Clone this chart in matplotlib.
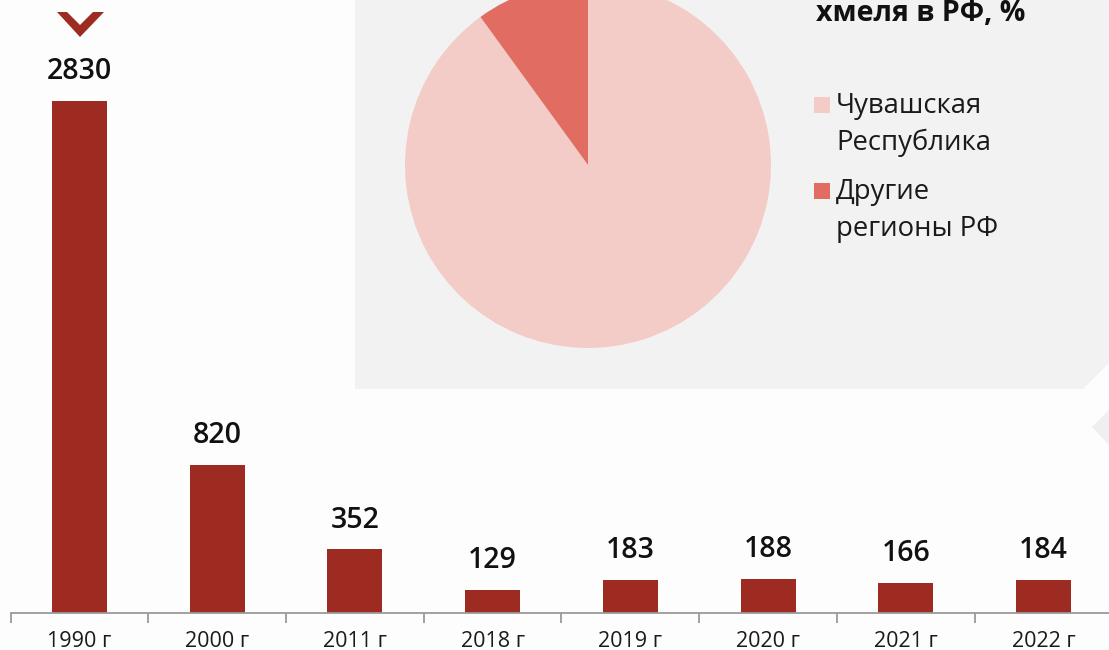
import matplotlib
matplotlib.use("Agg")
import matplotlib.pyplot as plt
from matplotlib.patches import Polygon, Rectangle
import numpy as np

# ---- data ----
years = ["1990 г", "2000 г", "2011 г", "2018 г", "2019 г", "2020 г", "2021 г", "2022 г"]
values = [2830, 820, 352, 129, 183, 188, 166, 184]

pie_labels = [["Чувашская", "Республика"], ["Другие", "регионы РФ"]]
pie_shares = [90, 10]
pie_title = "хмеля в РФ, %"

# ---- style ----
BAR = "#9d2b22"
PIE_COLORS = ["#f4ccc7", "#e06c62"]
BOX = "#f2f2f2"
BG = "#fdfdfd"
TXT = "#1a1a1a"
FONT = ["Open Sans", "DejaVu Sans"]
plt.rcParams["font.family"] = FONT

W, H = 1109, 650
fig = plt.figure(figsize=(W / 100, H / 100), dpi=100, facecolor=BG)

# background decorations (pixel coordinates)
bg = fig.add_axes([0, 0, 1, 1], zorder=0)
bg.set_xlim(0, W); bg.set_ylim(H, 0); bg.axis("off")
bg.add_patch(Polygon([(355, 0), (W, 0), (W, 363), (1083, 389), (355, 389)],
                     closed=True, facecolor=BOX, edgecolor="none"))
bg.add_patch(Polygon([(W, 410), (1092, 427), (W, 445)], closed=True,
                     facecolor="#efefef", edgecolor="none"))

# ---- bar chart ----
base_px = 613
left_px = 10.7
cat_px = 137.7
px_per_unit = 512 / 2830
ax = fig.add_axes([left_px / W, (H - base_px) / H, cat_px * 8 / W, base_px / H], zorder=1)
ax.set_facecolor("none")
x = np.arange(len(years))
ax.bar(x, values, width=0.4, color=BAR)
ax.set_xlim(-0.5, len(years) - 0.5)
ax.set_ylim(0, base_px / px_per_unit)
for xi, v in zip(x, values):
    ax.annotate(f"{v}", (xi, v), xytext=(0, 15.5), textcoords="offset points",
                ha="center", va="baseline", fontsize=20.5, fontweight="semibold",
                color="#111111")
for s in ["top", "right", "left"]:
    ax.spines[s].set_visible(False)
ax.spines["bottom"].set_color("#9a9a9a")
ax.spines["bottom"].set_linewidth(1.3)
ax.set_yticks([])
ax.set_xticks(x)
ax.set_xticklabels(years, fontsize=15.5, color=TXT)
ax.tick_params(axis="x", which="major", length=0, pad=13)
ax.set_xticks(np.arange(-0.5, len(years), 1.0), minor=True)
ax.tick_params(axis="x", which="minor", length=7, width=1.3, color="#9a9a9a", direction="out")

# ---- pie ----
cx, cy, r = 588, 165, 183
pax = fig.add_axes([(cx - r) / W, (H - cy - r) / H, 2 * r / W, 2 * r / H], zorder=2)
pax.pie(pie_shares, colors=PIE_COLORS, startangle=90, counterclock=False,
        wedgeprops=dict(linewidth=0))
pax.set_aspect("equal")
pax.set_xlim(-1, 1); pax.set_ylim(-1, 1)
pax.axis("off")

# ---- overlay texts / legend ----
ov = fig.add_axes([0, 0, 1, 1], zorder=3)
ov.set_xlim(0, W); ov.set_ylim(H, 0); ov.axis("off"); ov.set_facecolor("none")
ov.text(816, 21, pie_title, fontsize=20.5, fontweight="bold", color="#111111",
        ha="left", va="baseline")
leg_y = [113, 199]
for lines, col, yb in zip(pie_labels, PIE_COLORS, leg_y):
    ov.add_patch(Rectangle((814, yb - 16), 16, 16, facecolor=col, edgecolor="none"))
    for k, line in enumerate(lines):
        ov.text(836, yb + 37 * k, line, fontsize=19.8, color=TXT, ha="left", va="baseline")

# chevron
ov.add_patch(Polygon([(57, 12), (67, 12), (80, 25), (93, 12), (104, 12), (80, 37)],
                     closed=True, facecolor=BAR, edgecolor="none"))

fig.savefig("out.png", dpi=100, facecolor=BG)
